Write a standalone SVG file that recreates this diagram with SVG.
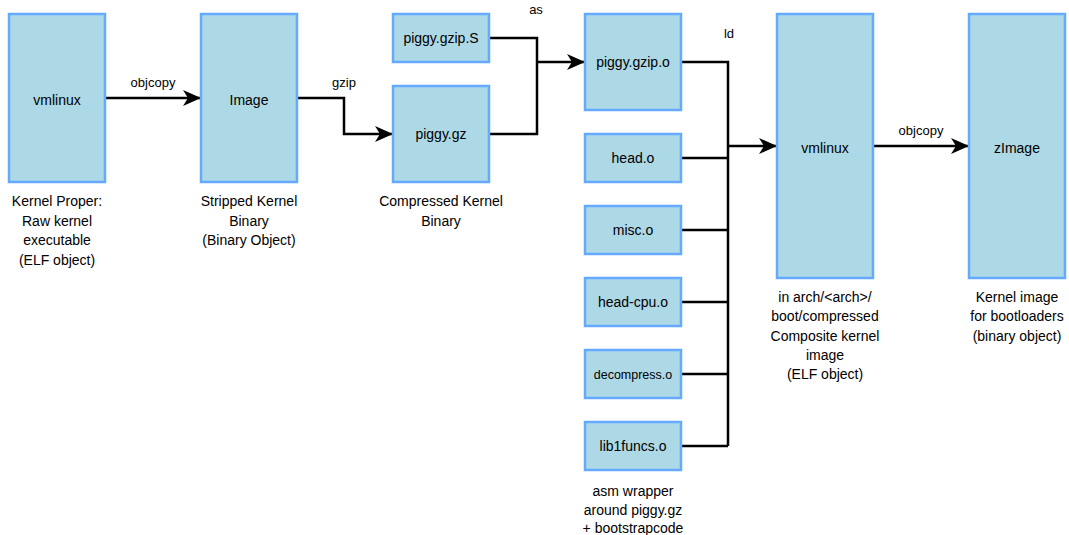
<svg xmlns="http://www.w3.org/2000/svg" width="1069" height="535" viewBox="0 0 1069 535">
<style>
.box{fill:#add8e6;stroke:#66aaff;stroke-width:2.5}
.t{font-family:"Liberation Sans",Arial,sans-serif;font-size:14px;fill:#000;text-anchor:middle}
.s{font-size:13px}
.d{font-size:12.5px}
.c{fill:none;stroke:#000;stroke-width:2.5}
</style>
<defs>
<marker id="ah" viewBox="0 0 18 16" refX="17" refY="8" markerWidth="18" markerHeight="16" markerUnits="userSpaceOnUse" orient="auto">
<path d="M0,0 L18,8 L0,16 L5,8 Z" fill="#000"/>
</marker>
</defs>
<g id="connectors">
<path class="c" d="M105,98 H200" marker-end="url(#ah)"/>
<path class="c" d="M297,98 H344 V134 H392" marker-end="url(#ah)"/>
<path class="c" d="M489,38 H537 V62"/>
<path class="c" d="M489,134 H537 V62"/>
<path class="c" d="M536,62 H584" marker-end="url(#ah)"/>
<path class="c" d="M681,62 H728 V446"/>
<path class="c" d="M681,158 H728 M681,230 H728 M681,302 H728 M681,374 H728 M681,446 H728"/>
<path class="c" d="M727,146 H776" marker-end="url(#ah)"/>
<path class="c" d="M873,146 H968" marker-end="url(#ah)"/>
<text class="t s" x="153" y="87">objcopy</text>
<text class="t s" x="344" y="87">gzip</text>
<text class="t s" x="536" y="14">as</text>
<text class="t s" x="729" y="38">ld</text>
<text class="t s" x="921" y="135">objcopy</text>
</g>
<g id="vmlinux">
<rect class="box" x="9" y="14" width="96" height="168"/>
<text class="t" x="57" y="105">vmlinux</text>
<text class="t" x="57" y="206">Kernel Proper:</text>
<text class="t" x="57" y="226">Raw kernel</text>
<text class="t" x="57" y="245">executable</text>
<text class="t" x="57" y="265">(ELF object)</text>
</g>
<g id="image">
<rect class="box" x="201" y="14" width="96" height="168"/>
<text class="t" x="249" y="105">Image</text>
<text class="t" x="249" y="206">Stripped Kernel</text>
<text class="t" x="249" y="226">Binary</text>
<text class="t" x="249" y="245">(Binary Object)</text>
</g>
<g id="piggy_gzip_S">
<rect class="box" x="393" y="14" width="96" height="48"/>
<text class="t" x="441" y="43">piggy.gzip.S</text>
</g>
<g id="piggy_gz">
<rect class="box" x="393" y="86" width="96" height="96"/>
<text class="t" x="441" y="139">piggy.gz</text>
<text class="t" x="441" y="206">Compressed Kernel</text>
<text class="t" x="441" y="226">Binary</text>
</g>
<g id="piggy_gzip_o">
<rect class="box" x="585" y="14" width="96" height="96"/>
<text class="t" x="633" y="67">piggy.gzip.o</text>
</g>
<g id="head_o">
<rect class="box" x="585" y="134" width="96" height="48"/>
<text class="t" x="633" y="163">head.o</text>
</g>
<g id="misc_o">
<rect class="box" x="585" y="206" width="96" height="48"/>
<text class="t" x="633" y="235">misc.o</text>
</g>
<g id="head_cpu_o">
<rect class="box" x="585" y="278" width="96" height="48"/>
<text class="t" x="633" y="307">head-cpu.o</text>
</g>
<g id="decompress_o">
<rect class="box" x="585" y="350" width="96" height="48"/>
<text class="t d" x="633" y="379">decompress.o</text>
</g>
<g id="lib1funcs_o">
<rect class="box" x="585" y="422" width="96" height="48"/>
<text class="t" x="633" y="451">lib1funcs.o</text>
<text class="t" x="633" y="496">asm wrapper</text>
<text class="t" x="633" y="515">around piggy.gz</text>
<text class="t" x="633" y="533">+ bootstrapcode</text>
</g>
<g id="vmlinux_c">
<rect class="box" x="777" y="14" width="96" height="264"/>
<text class="t" x="825" y="153">vmlinux</text>
<text class="t" x="825" y="302">in arch/&lt;arch&gt;/</text>
<text class="t" x="825" y="321">boot/compressed</text>
<text class="t" x="825" y="341">Composite kernel</text>
<text class="t" x="825" y="360">image</text>
<text class="t" x="825" y="379">(ELF object)</text>
</g>
<g id="zimage">
<rect class="box" x="969" y="14" width="96" height="264"/>
<text class="t" x="1017" y="153">zImage</text>
<text class="t" x="1017" y="302">Kernel image</text>
<text class="t" x="1017" y="321">for bootloaders</text>
<text class="t" x="1017" y="341">(binary object)</text>
</g>
</svg>
